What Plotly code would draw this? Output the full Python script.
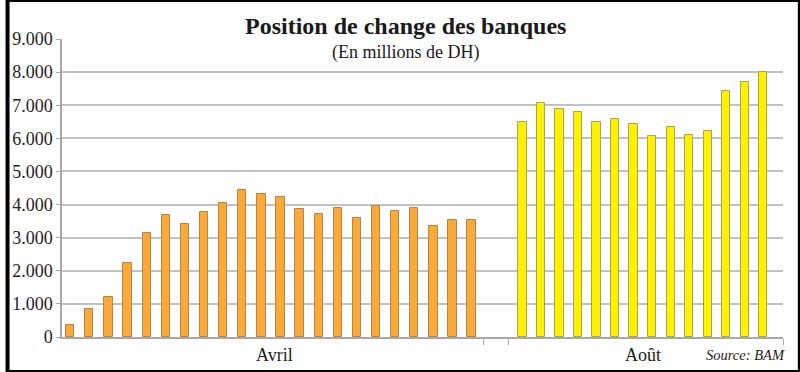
import plotly.graph_objects as go

# Data (millions de DH)
avril_values = [350, 850, 1210, 2250, 3150, 3690, 3420, 3780, 4040, 4440,
                4310, 4220, 3860, 3730, 3900, 3600, 3960, 3820, 3890, 3350,
                3530, 3530]
aout_values = [6480, 7060, 6890, 6790, 6480, 6570, 6440, 6070, 6350, 6110,
               6210, 7430, 7700, 8000]
category_labels = ["Avril", "Août"]
y_ticks = [0, 1000, 2000, 3000, 4000, 5000, 6000, 7000, 8000, 9000]
y_ticklabels = ["0", "1.000", "2.000", "3.000", "4.000", "5.000", "6.000",
                "7.000", "8.000", "9.000"]

# layout positions (horizontal axis in plot-pixel units)
A_START, A_STEP = 8.3, 19.3
B_START, B_STEP = 465.0, 18.7
avril_x = [A_START + i * A_STEP for i in range(len(avril_values))]
aout_x = [B_START + i * B_STEP for i in range(len(aout_values))]

fig = go.Figure()
fig.add_trace(go.Bar(x=avril_x, y=avril_values, width=8.4,
                     marker=dict(color="#FBAA3A",
                                 line=dict(color="#B58545", width=1)),
                     showlegend=False, hoverinfo="y"))
fig.add_trace(go.Bar(x=aout_x, y=aout_values, width=8.4,
                     marker=dict(color="#FFF200",
                                 line=dict(color="#ABA54A", width=1)),
                     showlegend=False, hoverinfo="y"))

serif = "Liberation Serif"

fig.update_layout(
    width=800, height=372,
    margin=dict(l=55, r=17, t=39, b=35),
    paper_bgcolor="white", plot_bgcolor="white",
    bargap=0,
    font=dict(family=serif, color="#222222"),
    xaxis=dict(range=[0, 728], showgrid=False, zeroline=False,
               showline=True, linecolor="#A8A8A8", linewidth=1.5,
               tickmode="array", tickvals=[426, 451, 728], ticktext=["", "", ""],
               ticks="outside", ticklen=6, tickcolor="#A8A8A8", fixedrange=True),
    yaxis=dict(range=[0, 9000], tickvals=y_ticks, ticktext=y_ticklabels,
               showgrid=True, gridcolor="#C2C2C2", gridwidth=1.5,
               zeroline=False, showline=True, linecolor="#A8A8A8",
               linewidth=1.5, ticks="outside", ticklen=4,
               tickcolor="#A8A8A8",
               tickfont=dict(family=serif, size=18, color="#222222"),
               fixedrange=True),
    shapes=[dict(type="rect", xref="paper", yref="paper",
                 x0=-55/728, x1=1 + 17/728, y0=-35/298, y1=1 + 39/298,
                 line=dict(color="black", width=4))],
)

fig.add_annotation(text="<b>Position de change des banques</b>",
                   xref="paper", yref="paper", x=(402 - 55) / 728, y=1 + (39 - 26) / 298,
                   showarrow=False, font=dict(family=serif, size=24, color="#1a1a1a"),
                   xanchor="center", yanchor="middle")
fig.add_annotation(text="(En millions de DH)",
                   xref="paper", yref="paper", x=(402 - 55) / 728, y=1 - (52 - 39) / 298,
                   showarrow=False, font=dict(family=serif, size=18, color="#1a1a1a"),
                   xanchor="center", yanchor="middle")
fig.add_annotation(text=category_labels[0], xref="paper", yref="paper",
                   x=(270 - 55) / 728, y=-(355 - 337) / 298, showarrow=False,
                   font=dict(family=serif, size=18, color="#1a1a1a"),
                   xanchor="center", yanchor="middle")
fig.add_annotation(text=category_labels[1], xref="paper", yref="paper",
                   x=(642 - 55) / 728, y=-(355 - 337) / 298, showarrow=False,
                   font=dict(family=serif, size=18, color="#1a1a1a"),
                   xanchor="center", yanchor="middle")
fig.add_annotation(text="<i>Source: BAM</i>", xref="paper", yref="paper",
                   x=(787 - 55) / 728, y=-(355 - 337) / 298, showarrow=False,
                   font=dict(family=serif, size=14.5, color="#1a1a1a"),
                   xanchor="right", yanchor="middle")

fig.write_html("out.html", config=dict(displayModeBar=False),
               post_script="document.body.style.margin='0';document.body.style.overflow='hidden';")
